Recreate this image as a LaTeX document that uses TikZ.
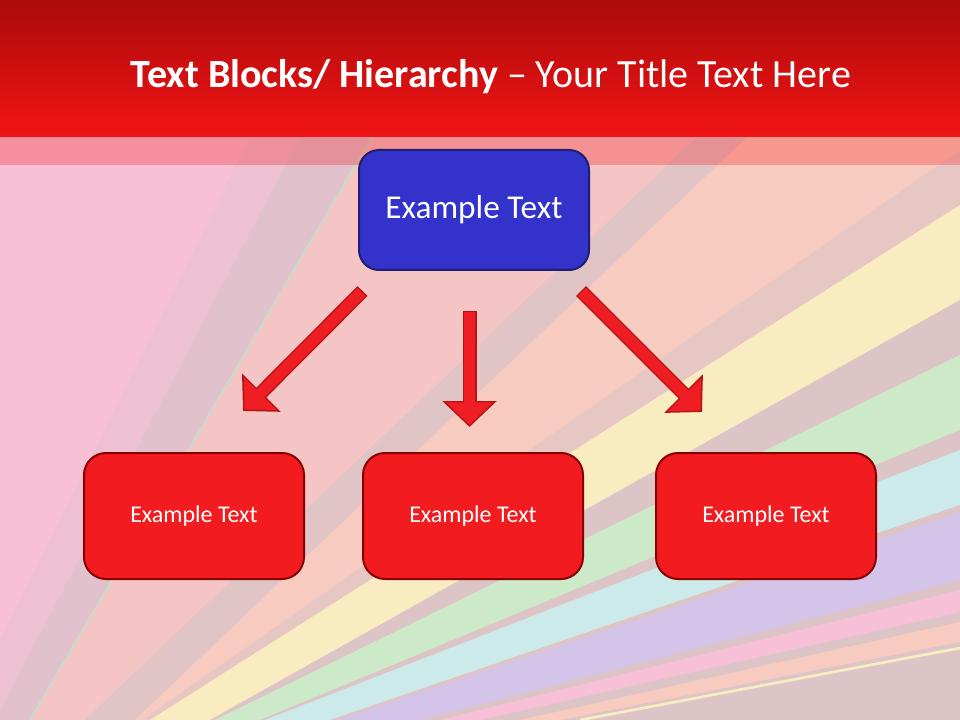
\documentclass[tikz,border=0pt]{standalone}
\usepackage{fontspec}
\setmainfont{Carlito}
\usetikzlibrary{arrows.meta}

\definecolor{titletop}{RGB}{172,10,10}
\definecolor{titlebot}{RGB}{242,20,22}
\definecolor{boxblue}{RGB}{51,51,204}
\definecolor{boxblueline}{RGB}{32,30,112}
\definecolor{boxred}{RGB}{242,28,32}
\definecolor{boxredline}{RGB}{135,0,0}
\definecolor{arrowred}{RGB}{238,30,36}
\definecolor{arrowline}{RGB}{185,20,20}
% background tints
\definecolor{bgpink}{RGB}{247,192,214}
\definecolor{bgsalmon}{RGB}{245,196,196}
\definecolor{bggrey}{RGB}{216,196,200}
\definecolor{bgpeach}{RGB}{248,203,192}
\definecolor{bgyellow}{RGB}{249,236,192}
\definecolor{bggreen}{RGB}{205,234,200}
\definecolor{bgcyan}{RGB}{205,234,234}
\definecolor{bgpurple}{RGB}{212,196,234}
\definecolor{bgline}{RGB}{205,218,198}

\tikzset{
  topbox/.style={draw=boxblueline, fill=boxblue, line width=1.5pt, rounded corners=15pt,
    minimum width=172.5pt, minimum height=90pt, text=white, font=\fontsize{25}{30}\selectfont},
  leafbox/.style={draw=boxredline, fill=boxred, line width=1.5pt, rounded corners=16.5pt,
    minimum width=165pt, minimum height=94.5pt, text=white, font=\fontsize{18}{22}\selectfont},
  blockarrow/.style={draw=arrowline, line width=10.5pt, -{Triangle[width=39.75pt,length=19.5pt]},
    postaction={draw=arrowred, line width=8.3pt, shorten <=1.1pt, shorten >=1.6pt,
      -{Triangle[width=33.6pt,length=16.8pt]}}}
}

\begin{document}
\begin{tikzpicture}[x=0.75pt, y=-0.75pt]
  \useasboundingbox (0,0) rectangle (960,720);

  % background fan
  \begin{scope}
    \clip (0,0) rectangle (960,720);
    \fill[bgpink] (0,0) rectangle (960,720);
    \fill[bggrey, opacity=0.3] (250,137) -- (300,137) -- (-5,720) -- (-40,720) -- cycle;
    \fill[bggrey, opacity=0.7] (300,137) -- (372,137) -- (30,720) -- (-5,720) -- cycle;
    \fill[bgsalmon] (372,137) -- (960,137) -- (960,720) -- (30,720) -- cycle;
    \fill[bggrey, opacity=0.7] (697,137) -- (747,137) -- (135,720) -- (85,720) -- cycle;
    \fill[bgpeach] (747,137) -- (960,137) -- (960,205) -- (150,720) -- (135,720) -- cycle;
    \fill[bggrey, opacity=0.5] (960,150) -- (960,205) -- (150,720) -- (142,720) -- cycle;
    \fill[bgyellow] (960,205) -- (960,300) -- (210,720) -- (150,720) -- cycle;
    \fill[bggrey, opacity=0.8] (960,300) -- (960,355) -- (215,720) -- (210,720) -- cycle;
    \fill[bggreen] (960,355) -- (960,430) -- (260,720) -- (215,720) -- cycle;
    \fill[bggrey, opacity=0.8] (960,430) -- (960,450) -- (265,720) -- (260,720) -- cycle;
    \fill[bgcyan] (960,450) -- (960,505) -- (330,720) -- (265,720) -- cycle;
    \fill[bggrey, opacity=0.8] (960,505) -- (960,720) -- (330,720) -- cycle;
    \fill[bgpurple] (960,512) -- (960,580) -- (420,720) -- (338,720) -- cycle;
    \fill[bgpink] (960,590) -- (960,612) -- (480,720) -- (440,720) -- cycle;
    \fill[bgpeach] (960,622) -- (960,642) -- (560,720) -- (520,720) -- cycle;
    \draw[bgyellow, line width=2pt] (960,648) -- (580,720);
    \draw[bgline, line width=1.5pt] (372,137) -- (30,720);
  \end{scope}

  % title bar
  \shade[top color=titletop, bottom color=titlebot] (0,0) rectangle (960,137);
  \fill[titlebot, opacity=0.28] (0,137) rectangle (960,165);
  \node[anchor=base, text=white, font=\fontsize{30}{36}\selectfont] (title) at (491,88)
    {\textbf{Text Blocks/ Hierarchy} -- Your Title Text Here};

  \node[topbox] (top) at (474,210) {Example Text};
  \node[leafbox] (left) at (194,516) {Example Text};
  \node[leafbox] (mid) at (473,516) {Example Text};
  \node[leafbox] (right) at (766,516) {Example Text};

  \coordinate (lefttail) at (362.5,291);
  \coordinate (lefttip) at (243,411);
  \coordinate (midtail) at (469.5,311);
  \coordinate (midtip) at (469.5,427);
  \coordinate (righttail) at (581,291);
  \coordinate (righttip) at (702,412);

  \draw[blockarrow] (lefttail) -- (lefttip);
  \draw[blockarrow] (midtail) -- (midtip);
  \draw[blockarrow] (righttail) -- (righttip);
\end{tikzpicture}
\end{document}
